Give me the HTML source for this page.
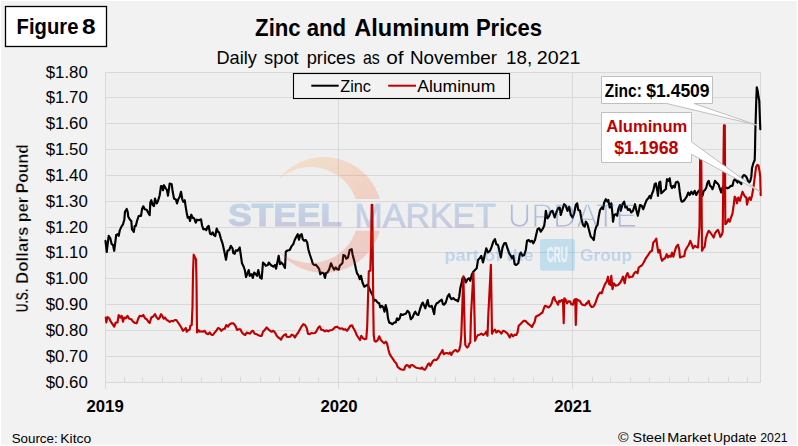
<!DOCTYPE html>
<html><head><meta charset="utf-8"><title>Zinc and Aluminum Prices</title>
<style>html,body{margin:0;padding:0;background:#f2f2f2;overflow:hidden}svg{display:block}</style></head>
<body>
<svg width="798" height="446" viewBox="0 0 798 446">
<rect x="0" y="0" width="798" height="446" fill="#f2f2f2"/>
<rect x="0" y="0" width="798" height="1" fill="#ffffff"/>
<rect x="0" y="0" width="1" height="446" fill="#ffffff"/>
<rect x="796.8" y="0" width="1.2" height="446" fill="#ffffff"/>
<rect x="0" y="444.8" width="798" height="1.2" fill="#ffffff"/>
<rect x="105.0" y="72.0" width="656.0" height="311.0" fill="#efefef"/>
<path d="M105.0,72.5H761.0M105.0,97.5H761.0M105.0,123.5H761.0M105.0,149.5H761.0M105.0,175.5H761.0M105.0,201.5H761.0M105.0,227.5H761.0M105.0,252.5H761.0M105.0,278.5H761.0M105.0,304.5H761.0M105.0,330.5H761.0M105.0,356.5H761.0M105.0,382.5H761.0M105.5,72.0V389.0M338.5,72.0V389.0M572.5,72.0V389.0M760.5,72.0V383.0M124.5,377.0V382.5M142.5,377.0V382.5M162.5,377.0V382.5M181.5,377.0V382.5M201.5,377.0V382.5M221.5,377.0V382.5M240.5,377.0V382.5M260.5,377.0V382.5M279.5,377.0V382.5M299.5,377.0V382.5M318.5,377.0V382.5M358.5,377.0V382.5M376.5,377.0V382.5M396.5,377.0V382.5M416.5,377.0V382.5M435.5,377.0V382.5M455.5,377.0V382.5M474.5,377.0V382.5M494.5,377.0V382.5M513.5,377.0V382.5M533.5,377.0V382.5M552.5,377.0V382.5M592.5,377.0V382.5M610.5,377.0V382.5M630.5,377.0V382.5M649.5,377.0V382.5M669.5,377.0V382.5M688.5,377.0V382.5M708.5,377.0V382.5M728.5,377.0V382.5M747.5,377.0V382.5" stroke="#d9d9d9" stroke-width="1" fill="none"/>
<path d="M105.5,240.8 L106.7,252.0 L108.7,235.8 L110.3,238.3 L111.7,244.2 L113.0,245.0 L114.2,250.8 L116.2,235.0 L117.8,234.2 L118.7,235.8 L119.7,230.7 L121.3,226.8 L123.0,224.3 L124.3,219.7 L125.0,211.8 L126.7,209.0 L127.7,211.8 L128.3,216.8 L130.0,219.7 L131.3,221.0 L132.0,229.3 L133.8,231.8 L134.7,226.0 L135.8,226.0 L137.0,221.0 L138.7,216.0 L140.0,215.7 L141.0,216.0 L142.0,209.3 L143.3,206.3 L144.7,209.3 L146.7,209.7 L148.3,213.0 L149.7,215.2 L150.3,202.7 L151.3,200.2 L152.7,205.2 L154.0,206.0 L155.0,198.5 L156.7,203.5 L158.0,201.0 L159.7,195.2 L161.0,186.0 L162.3,186.3 L163.0,190.2 L164.0,185.2 L165.8,188.5 L167.0,190.2 L168.0,195.7 L169.7,183.5 L171.7,184.3 L172.7,191.8 L174.0,198.5 L176.0,199.7 L177.0,203.5 L178.3,199.3 L179.7,196.8 L181.0,191.8 L182.3,199.3 L183.3,201.8 L184.7,200.2 L185.7,206.8 L186.7,212.7 L187.7,217.7 L189.0,216.8 L190.0,221.0 L191.3,214.7 L192.7,217.7 L194.3,218.5 L195.7,222.7 L197.0,219.7 L199.0,220.2 L201.0,219.3 L202.0,225.2 L203.3,229.3 L205.0,229.0 L206.3,230.2 L207.5,226.8 L208.7,226.0 L210.0,233.5 L211.3,234.3 L212.7,232.3 L214.0,235.2 L215.3,236.0 L216.7,228.5 L218.0,231.8 L219.2,232.5 L220.8,238.3 L222.5,243.3 L224.2,250.8 L226.0,259.7 L227.5,250.8 L229.2,250.0 L230.8,245.8 L232.5,248.3 L233.3,253.0 L234.7,253.7 L235.8,250.3 L237.5,250.8 L239.7,247.5 L240.8,255.0 L242.0,263.3 L243.7,266.7 L245.0,270.8 L246.0,277.0 L247.5,273.3 L248.7,270.0 L249.7,275.8 L251.7,274.2 L252.8,278.0 L254.2,272.5 L255.8,274.2 L257.0,275.8 L258.3,270.0 L260.0,277.5 L261.7,278.7 L263.0,262.5 L264.7,264.2 L265.8,265.8 L267.8,265.0 L268.8,262.5 L270.8,265.0 L273.3,266.7 L275.0,265.0 L276.0,268.7 L277.5,261.7 L278.7,255.8 L280.0,264.2 L281.3,262.5 L283.3,264.7 L285.0,268.0 L285.8,251.7 L287.5,250.5 L289.7,250.0 L291.3,246.7 L293.3,244.2 L294.7,240.0 L296.3,236.7 L297.7,234.2 L299.0,239.7 L300.3,235.0 L301.7,234.2 L302.8,239.2 L304.2,240.8 L305.8,240.0 L307.2,242.5 L308.3,249.2 L310.0,255.0 L311.7,260.0 L312.8,263.7 L314.2,265.0 L315.8,264.7 L317.5,266.7 L319.2,269.2 L320.3,274.2 L321.7,272.5 L323.7,273.3 L325.0,278.0 L326.0,273.0 L327.5,272.5 L329.2,269.2 L331.0,263.3 L332.5,266.7 L334.2,269.7 L335.8,267.5 L337.2,269.2 L338.7,269.7 L339.7,265.8 L341.3,264.2 L342.5,263.0 L343.3,255.0 L345.0,255.8 L346.3,258.7 L348.0,257.5 L349.7,250.0 L351.7,249.2 L352.5,254.2 L354.2,260.8 L355.8,268.3 L357.0,273.3 L358.3,275.0 L359.7,279.2 L361.0,275.8 L362.5,282.5 L364.2,286.7 L365.8,285.8 L367.5,284.7 L369.2,288.3 L370.8,291.7 L372.5,295.0 L374.2,300.8 L375.8,300.0 L377.5,302.5 L379.2,303.3 L380.3,307.5 L382.0,305.8 L383.3,307.5 L384.5,311.7 L385.7,305.0 L387.0,310.0 L388.0,318.3 L389.2,322.5 L390.8,323.3 L392.5,324.2 L394.2,322.5 L395.8,322.5 L397.0,318.3 L398.3,320.0 L399.7,318.3 L400.8,314.2 L402.5,315.0 L404.2,314.2 L405.8,313.7 L407.5,310.8 L409.2,312.5 L410.8,319.2 L412.5,317.5 L414.2,313.3 L415.3,311.7 L416.7,314.2 L418.3,315.0 L420.0,309.2 L421.3,305.3 L422.7,302.5 L424.2,305.8 L425.3,308.3 L426.7,303.3 L427.7,300.0 L428.7,305.8 L430.3,306.7 L431.7,305.8 L433.0,310.0 L434.2,314.2 L435.0,306.7 L436.7,303.3 L438.3,302.5 L440.0,300.8 L441.7,299.7 L443.0,304.2 L444.2,304.7 L445.8,302.5 L447.5,296.7 L449.2,294.2 L450.3,297.5 L451.7,299.2 L453.3,298.0 L455.0,299.7 L456.7,300.3 L458.0,301.3 L459.2,296.7 L460.3,288.3 L461.7,282.5 L462.5,278.3 L464.2,277.5 L465.8,282.5 L467.5,279.2 L469.2,278.3 L470.3,280.8 L471.7,275.0 L473.3,271.7 L475.0,270.0 L476.7,268.3 L478.0,260.0 L479.7,258.3 L481.3,255.8 L483.0,262.5 L484.7,255.0 L486.3,248.3 L488.0,252.5 L490.0,250.8 L491.7,246.7 L493.3,241.7 L495.0,239.2 L496.3,244.2 L498.0,245.0 L499.2,250.0 L500.8,257.5 L502.5,247.5 L504.2,243.3 L505.8,243.0 L507.5,248.3 L509.2,253.3 L510.8,255.8 L512.0,258.3 L513.3,255.8 L514.7,264.2 L516.3,265.0 L518.3,263.3 L519.7,255.0 L520.8,252.5 L522.5,255.8 L524.2,255.0 L525.8,250.0 L527.0,240.8 L528.7,240.0 L530.3,241.7 L532.0,240.8 L533.3,243.3 L535.0,240.0 L536.3,234.2 L537.5,229.2 L539.2,228.3 L540.8,231.7 L542.5,229.2 L544.2,225.8 L545.0,220.0 L545.8,210.8 L547.5,218.3 L549.2,215.8 L550.8,211.7 L552.5,210.8 L554.7,217.5 L556.3,212.5 L558.0,208.3 L559.7,207.5 L560.8,215.0 L562.5,209.2 L564.2,204.2 L565.8,205.8 L567.5,210.8 L569.2,206.7 L570.8,215.0 L572.5,217.5 L574.2,213.3 L575.8,205.0 L577.2,203.3 L578.3,210.0 L580.0,210.8 L581.3,218.3 L583.0,225.0 L584.7,226.7 L585.8,221.7 L587.5,224.2 L589.2,230.8 L590.8,236.7 L592.5,238.3 L593.8,240.0 L595.0,230.8 L596.3,226.7 L597.5,225.0 L598.7,216.7 L600.0,210.0 L601.7,207.5 L603.0,209.2 L604.2,202.5 L605.8,199.2 L607.5,201.7 L608.3,200.0 L609.7,207.5 L611.3,203.3 L612.5,214.2 L613.0,221.7 L614.2,215.0 L615.8,214.2 L617.2,215.8 L618.3,209.2 L620.0,205.0 L620.8,210.8 L622.5,204.2 L624.2,201.7 L625.3,207.5 L626.7,206.7 L628.0,210.0 L629.7,209.2 L631.3,212.5 L633.0,210.8 L635.0,204.2 L636.3,210.0 L637.8,215.8 L639.2,209.2 L640.0,205.0 L641.7,205.8 L643.3,209.2 L645.0,204.2 L646.7,200.0 L648.3,198.3 L649.7,195.8 L650.8,198.3 L652.0,193.7 L653.3,190.8 L654.7,184.2 L655.8,183.3 L657.0,189.2 L658.0,195.8 L659.2,182.5 L660.3,181.7 L661.3,193.3 L663.0,191.7 L664.7,190.0 L665.8,189.2 L667.0,179.2 L668.3,180.8 L669.7,178.3 L670.8,185.8 L672.0,188.0 L673.3,185.8 L674.7,187.5 L675.8,182.5 L677.5,181.7 L678.7,183.3 L679.7,191.7 L680.8,199.2 L681.7,201.7 L683.3,201.3 L685.0,199.2 L686.7,196.7 L688.3,192.5 L689.7,195.0 L691.3,191.7 L693.0,194.2 L694.7,190.8 L696.3,195.0 L698.0,191.7 L699.7,190.0 L701.3,191.7 L702.5,195.8 L703.7,190.8 L705.0,190.0 L706.3,187.5 L707.5,182.5 L708.7,180.8 L710.0,185.8 L711.3,186.7 L712.5,189.2 L713.7,185.8 L715.0,180.8 L716.3,182.5 L717.5,183.3 L718.7,185.0 L720.0,189.2 L721.3,192.5 L722.5,187.5 L724.2,185.8 L725.8,187.5 L727.5,188.3 L729.2,187.5 L730.8,185.8 L732.5,185.8 L733.7,180.8 L735.0,179.2 L736.3,180.8 L737.5,182.5 L738.7,180.0 L740.0,182.5 L741.3,184.2 L742.5,176.7 L743.7,175.0 L745.3,175.8 L746.7,177.5 L748.0,180.8 L749.2,182.5 L750.3,180.8 L751.3,176.7 L752.0,168.3 L753.3,163.3 L754.7,160.0 L755.0,150.0 L755.3,132.7 L755.8,116.0 L756.3,99.3 L756.8,87.3 L757.7,91.0 L758.5,96.8 L759.3,101.0 L759.8,116.0 L760.3,129.3" fill="none" stroke="#000" stroke-width="2.15" stroke-linejoin="round" stroke-linecap="round"/>
<path d="M105.8,317.5 L106.3,322.5 L107.5,317.0 L109.2,318.3 L110.8,321.7 L112.5,324.2 L114.2,326.7 L115.8,322.5 L117.5,322.5 L118.7,315.0 L120.3,317.5 L121.7,315.8 L123.0,321.7 L124.3,317.5 L125.8,318.3 L127.5,315.8 L129.2,318.7 L131.3,319.2 L133.0,321.7 L135.0,323.0 L136.7,323.3 L138.0,319.2 L139.7,315.8 L141.7,316.3 L143.3,315.0 L145.0,318.3 L146.7,319.2 L148.3,321.7 L149.7,323.0 L151.3,317.5 L153.0,316.7 L155.0,314.2 L156.7,317.5 L158.3,319.2 L159.7,317.5 L161.0,314.2 L162.7,316.7 L163.7,318.7 L165.0,317.5 L166.7,320.0 L168.3,320.8 L169.7,322.0 L171.3,320.8 L173.0,321.3 L174.7,320.0 L176.3,320.0 L178.0,322.5 L179.7,325.0 L181.3,327.5 L183.0,330.8 L184.7,329.2 L185.8,328.0 L186.7,331.7 L188.3,330.0 L189.7,329.7 L190.3,325.8 L191.7,325.3 L192.5,306.7 L193.0,273.3 L193.7,254.7 L195.0,257.5 L196.0,259.2 L196.5,281.7 L197.0,332.5 L198.3,330.0 L199.7,331.7 L201.3,331.3 L203.0,331.7 L204.7,330.8 L206.3,333.3 L208.0,334.2 L209.7,332.5 L211.3,334.7 L213.0,335.0 L214.7,332.5 L216.3,330.8 L218.0,328.0 L219.7,328.7 L221.3,330.8 L223.0,329.2 L224.7,328.7 L226.3,325.0 L228.0,326.7 L229.7,324.2 L231.7,323.3 L233.3,323.3 L234.2,324.2 L235.8,326.7 L237.0,330.0 L238.7,329.2 L240.3,329.2 L242.0,332.5 L243.7,334.2 L245.3,335.0 L246.7,332.5 L248.3,333.0 L250.0,333.7 L251.7,331.3 L253.0,330.8 L254.7,333.7 L256.7,334.2 L258.3,335.3 L260.0,335.8 L261.7,335.8 L263.0,331.7 L264.7,330.0 L266.7,327.5 L268.3,329.2 L270.0,330.8 L271.7,331.7 L273.3,330.8 L275.0,332.5 L276.7,335.8 L278.3,337.5 L279.7,338.3 L281.0,339.7 L282.5,336.7 L284.2,335.0 L285.8,334.2 L286.7,336.7 L288.3,337.0 L290.0,336.7 L291.7,334.7 L293.3,335.3 L295.0,337.5 L296.3,335.0 L298.3,332.5 L300.0,329.2 L301.7,326.3 L303.3,324.2 L305.0,325.0 L306.7,328.0 L308.0,333.7 L309.7,334.2 L311.3,333.0 L313.0,333.3 L315.0,333.0 L316.7,330.8 L318.3,327.5 L319.7,326.3 L321.3,329.7 L323.0,330.0 L325.0,331.3 L326.7,330.3 L328.3,331.3 L330.0,330.3 L332.0,330.0 L333.7,328.7 L335.3,327.0 L337.0,326.7 L338.7,328.0 L340.3,328.7 L342.0,328.3 L343.7,329.7 L345.3,329.2 L347.0,330.8 L348.7,328.3 L350.3,325.8 L352.0,325.3 L353.3,328.0 L355.0,330.8 L356.7,335.0 L358.3,337.5 L360.0,340.0 L361.3,335.8 L363.0,338.3 L365.0,339.2 L366.3,338.7 L367.2,326.7 L368.8,271.3 L370.3,270.8 L371.0,248.3 L371.7,204.7 L372.3,204.7 L373.3,310.0 L373.7,335.0 L374.5,340.8 L375.8,341.7 L377.5,340.3 L379.2,336.3 L380.8,340.0 L382.5,341.7 L384.2,343.3 L385.8,341.7 L387.0,343.3 L388.3,349.2 L389.7,354.2 L391.3,356.7 L393.0,359.2 L394.7,361.7 L396.3,363.3 L397.5,366.7 L399.2,368.3 L400.8,369.2 L402.5,369.7 L404.2,369.7 L405.0,366.7 L406.7,365.0 L408.3,365.8 L409.7,367.5 L410.8,365.3 L412.5,365.0 L414.2,366.3 L415.8,367.5 L417.5,368.0 L419.2,368.3 L420.8,368.7 L422.0,367.5 L423.3,369.2 L425.0,369.7 L426.3,367.5 L428.0,364.2 L429.2,363.3 L430.3,365.8 L431.7,363.3 L433.0,360.8 L434.7,359.7 L436.3,360.0 L438.0,358.3 L439.7,354.7 L441.3,352.5 L442.5,350.0 L443.7,354.2 L445.3,353.3 L447.0,353.0 L448.7,353.7 L450.0,352.5 L451.3,355.0 L452.5,352.5 L454.2,350.8 L455.8,350.0 L457.5,351.7 L459.2,350.0 L460.3,345.8 L461.3,335.0 L463.4,276.4 L464.7,331.7 L465.3,345.0 L467.0,347.5 L468.3,346.7 L469.2,343.7 L470.3,342.5 L471.0,315.0 L473.4,272.8 L474.7,323.3 L475.0,340.8 L476.3,337.5 L478.0,335.0 L479.7,334.7 L481.3,333.7 L483.3,335.0 L485.0,333.7 L486.3,331.7 L487.5,335.8 L488.3,315.0 L490.9,264.8 L492.0,333.7 L493.3,330.8 L495.0,329.7 L496.3,332.5 L498.0,330.8 L499.7,331.7 L501.3,333.7 L503.0,330.8 L504.7,331.3 L506.3,332.5 L508.0,334.2 L509.7,337.5 L511.3,334.2 L513.0,336.3 L514.7,334.7 L516.3,335.0 L517.5,332.5 L518.7,325.8 L520.3,324.2 L522.0,322.5 L523.7,320.8 L525.3,320.8 L527.0,322.5 L528.7,324.2 L530.3,325.3 L532.0,327.0 L533.3,324.2 L534.7,321.7 L535.8,316.7 L537.5,315.8 L539.2,315.0 L540.8,313.7 L542.5,312.5 L543.7,308.7 L545.0,305.8 L546.7,306.3 L548.3,307.5 L550.0,306.3 L551.7,303.3 L553.0,298.3 L554.2,297.0 L555.3,300.8 L556.7,302.0 L558.0,304.7 L559.2,300.8 L560.3,301.7 L561.7,300.0 L563.0,300.3 L563.7,323.3 L564.3,298.3 L565.8,300.0 L567.0,303.3 L568.3,301.3 L570.0,301.3 L571.3,304.2 L573.0,304.7 L574.2,300.0 L575.3,299.2 L575.8,325.0 L576.7,299.2 L578.3,300.3 L580.0,301.3 L581.7,304.2 L583.3,305.0 L585.0,305.3 L586.7,303.0 L587.0,303.7 L588.7,300.8 L590.0,305.0 L591.7,307.0 L593.3,306.7 L595.0,304.2 L596.7,299.2 L598.3,295.0 L600.0,292.5 L601.7,293.3 L603.3,288.3 L605.0,284.2 L606.7,281.7 L608.0,276.7 L609.2,284.2 L610.3,285.0 L611.3,275.8 L612.5,289.2 L613.7,283.3 L615.8,285.8 L618.0,285.0 L619.7,283.3 L621.3,280.8 L623.0,276.7 L624.7,283.3 L625.8,276.7 L627.5,273.0 L629.2,277.5 L630.8,276.7 L632.5,276.7 L634.2,273.3 L635.8,271.7 L637.5,273.3 L638.7,267.5 L640.3,266.3 L642.0,265.3 L643.7,262.5 L645.3,259.2 L647.0,256.7 L648.7,254.2 L650.3,251.7 L652.0,250.8 L653.3,242.5 L655.0,240.8 L656.2,238.7 L657.5,247.5 L658.3,252.5 L659.7,250.0 L660.8,256.7 L662.0,260.8 L663.3,259.2 L665.0,258.3 L666.7,254.2 L668.0,257.5 L669.2,255.8 L670.8,256.7 L672.0,252.5 L673.3,256.7 L674.7,251.7 L676.3,246.7 L678.0,244.7 L679.2,249.2 L680.0,257.5 L681.7,256.7 L684.2,256.3 L685.3,250.8 L687.0,247.5 L688.7,245.0 L690.3,240.8 L691.7,244.2 L693.0,248.3 L694.7,245.8 L696.3,246.7 L698.0,247.5 L699.5,226.7 L700.2,152.0 L701.2,152.0 L702.0,250.8 L703.3,248.3 L704.7,246.7 L705.8,238.3 L707.5,233.3 L708.7,230.8 L710.3,232.5 L712.0,235.0 L713.7,237.5 L715.0,233.3 L716.7,230.8 L718.0,230.0 L719.3,233.3 L720.3,237.0 L721.7,235.0 L722.7,231.7 L723.9,125.4 L724.8,125.4 L725.3,224.2 L727.0,222.5 L728.3,219.2 L729.7,221.7 L730.8,218.3 L732.5,213.3 L733.7,205.0 L734.7,196.7 L735.8,198.3 L737.0,203.3 L738.3,197.5 L740.0,200.8 L741.3,195.8 L742.5,191.7 L743.7,194.2 L745.0,196.7 L746.3,197.5 L747.0,204.7 L748.3,199.2 L749.7,197.5 L750.8,200.0 L752.0,195.8 L753.3,188.3 L754.2,181.7 L755.2,173.6 L756.1,166.9 L757.2,164.9 L758.5,165.5 L759.6,171.6 L760.2,176.3 L760.7,195.1" fill="none" stroke="#c00000" stroke-width="2.15" stroke-linejoin="round" stroke-linecap="round"/>
<defs>
<linearGradient id="wg" gradientUnits="userSpaceOnUse" x1="0" y1="203" x2="0" y2="227"><stop offset="0" stop-color="#1377cc"/><stop offset="1" stop-color="#313199"/></linearGradient>
<linearGradient id="sg" gradientUnits="userSpaceOnUse" x1="295" y1="160" x2="350" y2="272"><stop offset="0" stop-color="#ffa040"/><stop offset="0.55" stop-color="#f5551c"/><stop offset="1" stop-color="#ea3b2c"/></linearGradient>
<clipPath id="cu"><rect x="260" y="150" width="130" height="49"/></clipPath>
<clipPath id="cl"><rect x="260" y="230.8" width="130" height="50"/></clipPath>
<mask id="cres"><rect x="250" y="140" width="150" height="150" fill="#fff"/><circle cx="310.5" cy="215" r="48" fill="#000"/></mask>
<mask id="um"><text x="507.8" y="226.6" font-family="'Liberation Sans',sans-serif" font-size="32.6" textLength="129.5" lengthAdjust="spacingAndGlyphs" fill="#fff" stroke="#000" stroke-width="1.25">UPDATE</text></mask>
</defs>
<g opacity="0.2">
<g mask="url(#cres)"><circle cx="324" cy="215" r="58" fill="url(#sg)" clip-path="url(#cu)"/><circle cx="324" cy="215" r="58" fill="url(#sg)" clip-path="url(#cl)"/></g>
<g font-family="'Liberation Sans',sans-serif" fill="url(#wg)">
<text x="228.3" y="225.8" font-size="31.2" font-weight="bold" textLength="113.7" lengthAdjust="spacingAndGlyphs" stroke="url(#wg)" stroke-width="1.2">STEEL</text>
<text x="354.6" y="226.6" font-size="32.6" textLength="141.4" lengthAdjust="spacingAndGlyphs" stroke="url(#wg)" stroke-width="0.8">MARKET</text>
</g>
<g font-family="'Liberation Sans',sans-serif" font-weight="bold" fill="#0a6fd0">
<text x="444.4" y="261.4" font-size="16.6" textLength="89.4" lengthAdjust="spacingAndGlyphs">part of the</text>
<text x="580" y="261.4" font-size="17" textLength="52" lengthAdjust="spacingAndGlyphs">Group</text>
</g>
<rect x="540" y="238.9" width="34.9" height="31.8" rx="2.5" fill="#1399e0"/>
</g>
<rect x="505" y="198" width="140" height="34" fill="url(#wg)" mask="url(#um)" opacity="0.32"/>
<text x="546.8" y="262.3" font-family="'Liberation Sans',sans-serif" font-weight="bold" font-size="21.8" textLength="21" lengthAdjust="spacingAndGlyphs" fill="#f1f5f8" stroke="#f1f5f8" stroke-width="0.7" opacity="0.85">CRU</text>
<rect x="293.5" y="73.5" width="216" height="25" fill="#f2f2f2" stroke="#000" stroke-width="1.1"/>
<path d="M311.3,85.7H338.7" stroke="#000" stroke-width="2"/>
<path d="M388.2,85.7H416" stroke="#c00000" stroke-width="2"/>
<path d="M601.5,76.5H712.5V103.5H694L756.9,125.1L666.7,103.5H601.5Z" fill="#fff" stroke="#bfbfbf" stroke-width="1" stroke-linejoin="miter"/>
<path d="M601.5,112.5H691.5V141.8L760,191.7L691.5,154.3V162.5H601.5Z" fill="#fff" stroke="#bfbfbf" stroke-width="1" stroke-linejoin="miter"/>
<g font-family="'Liberation Sans',sans-serif">
<rect x="5.5" y="6.5" width="101" height="40" fill="#fff" stroke="#000" stroke-width="1.3"/>
<text x="16.6" y="33.6" font-size="21.3" font-weight="bold" textLength="61.8" lengthAdjust="spacingAndGlyphs" fill="#000">Figure</text><text x="81.9" y="33.6" font-size="21.3" font-weight="bold" textLength="13.6" lengthAdjust="spacingAndGlyphs" fill="#000">8</text>
<text x="255.1" y="35.8" font-size="24.2" font-weight="bold" textLength="45.6" lengthAdjust="spacingAndGlyphs" fill="#000">Zinc</text><text x="306.7" y="35.8" font-size="24.2" font-weight="bold" textLength="39.5" lengthAdjust="spacingAndGlyphs" fill="#000">and</text><text x="354.2" y="35.8" font-size="24.2" font-weight="bold" textLength="115.2" lengthAdjust="spacingAndGlyphs" fill="#000">Aluminum</text><text x="475.9" y="35.8" font-size="24.2" font-weight="bold" textLength="66.2" lengthAdjust="spacingAndGlyphs" fill="#000">Prices</text>
<text x="216.5" y="63.7" font-size="17.7" textLength="40.4" lengthAdjust="spacingAndGlyphs" fill="#000">Daily</text><text x="264.1" y="63.7" font-size="17.7" textLength="34.6" lengthAdjust="spacingAndGlyphs" fill="#000">spot</text><text x="306.7" y="63.7" font-size="17.7" textLength="48.7" lengthAdjust="spacingAndGlyphs" fill="#000">prices</text><text x="362.9" y="63.7" font-size="17.7" textLength="16.8" lengthAdjust="spacingAndGlyphs" fill="#000">as</text><text x="386.2" y="63.7" font-size="17.7" textLength="17.3" lengthAdjust="spacingAndGlyphs" fill="#000">of</text><text x="410.0" y="63.7" font-size="17.7" textLength="87.0" lengthAdjust="spacingAndGlyphs" fill="#000">November</text><text x="506.0" y="63.7" font-size="17.7" textLength="26.1" lengthAdjust="spacingAndGlyphs" fill="#000">18,</text><text x="536.8" y="63.7" font-size="17.7" textLength="43.7" lengthAdjust="spacingAndGlyphs" fill="#000">2021</text>
<text x="45.7" y="78.0" font-size="16.8" textLength="42.1" lengthAdjust="spacingAndGlyphs" fill="#000">$1.80</text>
<text x="45.7" y="103.0" font-size="16.8" textLength="42.1" lengthAdjust="spacingAndGlyphs" fill="#000">$1.70</text>
<text x="45.7" y="129.0" font-size="16.8" textLength="42.1" lengthAdjust="spacingAndGlyphs" fill="#000">$1.60</text>
<text x="45.7" y="155.0" font-size="16.8" textLength="42.1" lengthAdjust="spacingAndGlyphs" fill="#000">$1.50</text>
<text x="45.7" y="181.0" font-size="16.8" textLength="42.1" lengthAdjust="spacingAndGlyphs" fill="#000">$1.40</text>
<text x="45.7" y="207.0" font-size="16.8" textLength="42.1" lengthAdjust="spacingAndGlyphs" fill="#000">$1.30</text>
<text x="45.7" y="233.0" font-size="16.8" textLength="42.1" lengthAdjust="spacingAndGlyphs" fill="#000">$1.20</text>
<text x="45.7" y="258.0" font-size="16.8" textLength="42.1" lengthAdjust="spacingAndGlyphs" fill="#000">$1.10</text>
<text x="45.7" y="284.0" font-size="16.8" textLength="42.1" lengthAdjust="spacingAndGlyphs" fill="#000">$1.00</text>
<text x="45.7" y="310.0" font-size="16.8" textLength="42.1" lengthAdjust="spacingAndGlyphs" fill="#000">$0.90</text>
<text x="45.7" y="336.0" font-size="16.8" textLength="42.1" lengthAdjust="spacingAndGlyphs" fill="#000">$0.80</text>
<text x="45.7" y="362.0" font-size="16.8" textLength="42.1" lengthAdjust="spacingAndGlyphs" fill="#000">$0.70</text>
<text x="45.7" y="388.0" font-size="16.8" textLength="42.1" lengthAdjust="spacingAndGlyphs" fill="#000">$0.60</text>
<text x="86.5" y="412.1" font-size="17.2" font-weight="bold" textLength="37.2" lengthAdjust="spacingAndGlyphs" fill="#000">2019</text>
<text x="320.4" y="412.1" font-size="17.2" font-weight="bold" textLength="37.2" lengthAdjust="spacingAndGlyphs" fill="#000">2020</text>
<text x="554.1999999999999" y="412.1" font-size="17.2" font-weight="bold" textLength="37.2" lengthAdjust="spacingAndGlyphs" fill="#000">2021</text>
<text x="11.7" y="442.5" font-size="13.0" textLength="46.0" lengthAdjust="spacingAndGlyphs" fill="#000">Source:</text><text x="60.3" y="442.5" font-size="13.0" textLength="30.9" lengthAdjust="spacingAndGlyphs" fill="#000">Kitco</text>
<text x="618.1" y="441.6" font-size="13.0" textLength="10.6" lengthAdjust="spacingAndGlyphs" fill="#000">©</text><text x="632.6" y="441.6" font-size="13.0" textLength="32.6" lengthAdjust="spacingAndGlyphs" fill="#000">Steel</text><text x="667.2" y="441.6" font-size="13.0" textLength="44.1" lengthAdjust="spacingAndGlyphs" fill="#000">Market</text><text x="713.2" y="441.6" font-size="13.0" textLength="43.4" lengthAdjust="spacingAndGlyphs" fill="#000">Update</text><text x="760.3" y="441.6" font-size="13.0" textLength="27.3" lengthAdjust="spacingAndGlyphs" fill="#000">2021</text>
<text x="340.3" y="91.9" font-size="17.4" textLength="30.7" lengthAdjust="spacingAndGlyphs" fill="#000">Zinc</text>
<text x="417.2" y="91.9" font-size="17.4" textLength="78.1" lengthAdjust="spacingAndGlyphs" fill="#000">Aluminum</text>
<text x="604.8" y="96.6" font-size="17.5" font-weight="bold" textLength="37.1" lengthAdjust="spacingAndGlyphs" fill="#000">Zinc:</text><text x="646.3" y="96.6" font-size="17.5" font-weight="bold" textLength="63.3" lengthAdjust="spacingAndGlyphs" fill="#000">$1.4509</text>
<text x="606.2" y="131.9" font-size="16.8" font-weight="bold" textLength="81.2" lengthAdjust="spacingAndGlyphs" fill="#c00000">Aluminum</text>
<text x="614.2" y="154.3" font-size="17.8" font-weight="bold" textLength="64.3" lengthAdjust="spacingAndGlyphs" fill="#c00000">$1.1968</text>
<g transform="translate(28.3,0) rotate(-90)" stroke="#f2f2f2" stroke-width="0.35"><text x="-312.3" y="0" font-size="17.4" font-weight="bold" textLength="23.6" lengthAdjust="spacingAndGlyphs" fill="#000">U.S.</text><text x="-284.0" y="0" font-size="17.4" font-weight="bold" textLength="57.5" lengthAdjust="spacingAndGlyphs" fill="#000">Dollars</text><text x="-222.2" y="0" font-size="17.4" font-weight="bold" textLength="25.2" lengthAdjust="spacingAndGlyphs" fill="#000">per</text><text x="-193.3" y="0" font-size="17.4" font-weight="bold" textLength="49.1" lengthAdjust="spacingAndGlyphs" fill="#000">Pound</text></g>
</g>
</svg>
</body></html>
